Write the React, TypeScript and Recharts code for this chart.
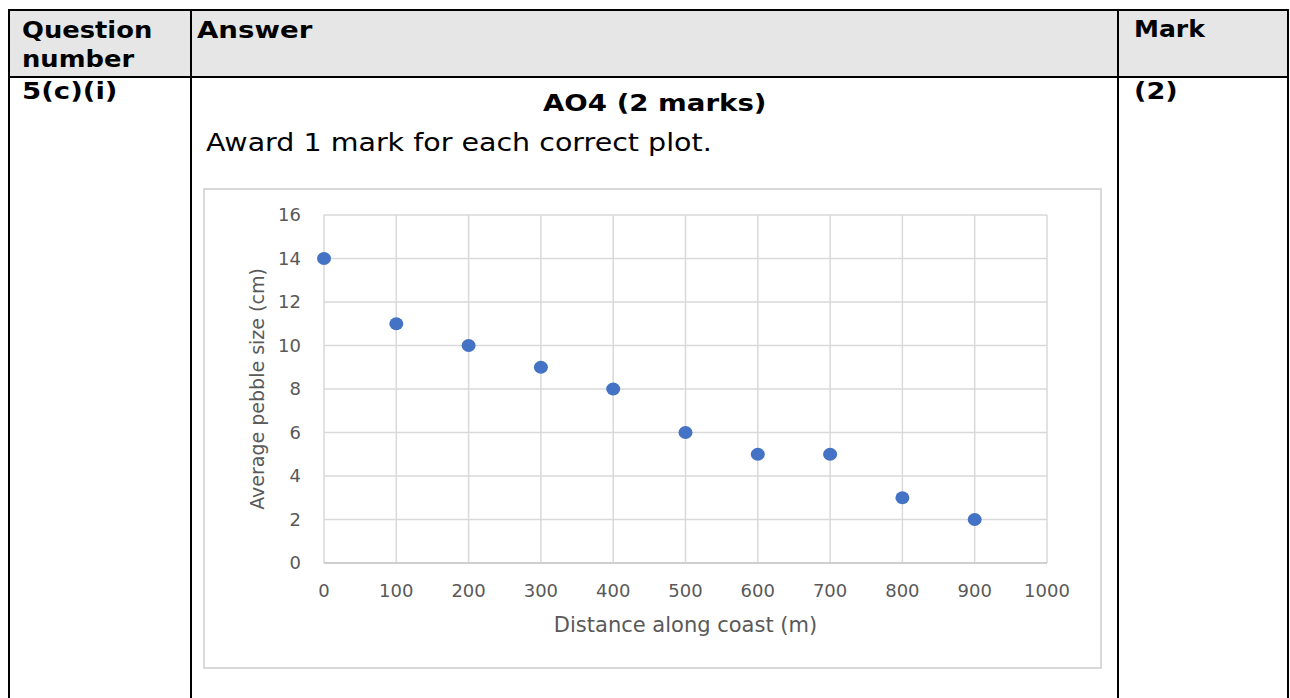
import React from 'react';
import { ScatterChart, Scatter, XAxis, YAxis, CartesianGrid } from 'recharts';

const distances = [0, 100, 200, 300, 400, 500, 600, 700, 800, 900];
const pebbleSizes = [14, 11, 10, 9, 8, 6, 5, 5, 3, 2];
const xTicks = [0, 100, 200, 300, 400, 500, 600, 700, 800, 900, 1000];
const yTicks = [0, 2, 4, 6, 8, 10, 12, 14, 16];

const data = distances.map((d, i) => ({ x: d, y: pebbleSizes[i] }));

const TABLE_FONT = '"DejaVu Sans", Verdana, sans-serif';
const CHART_FONT = '"DejaVu Sans", sans-serif';

const line = (left: number, top: number, width: number, height: number) => (
  <div style={{ position: 'absolute', left, top, width, height, background: '#000' }} />
);

const txt = (
  content: string,
  left: number,
  top: number,
  bold: boolean,
  scale: number,
  extra: React.CSSProperties = {}
) => (
  <div
    style={{
      position: 'absolute',
      left,
      top,
      fontFamily: TABLE_FONT,
      fontSize: bold ? 23 : 25,
      lineHeight: '29px',
      fontWeight: bold ? 'bold' : 'normal',
      color: '#000',
      whiteSpace: 'pre',
      transform: `scaleX(${scale})`,
      transformOrigin: 'left top',
      ...extra,
    }}
  >
    {content}
  </div>
);

const Dot = (props: any) => (
  <ellipse cx={props.cx} cy={props.cy} rx={7} ry={6.4} fill="#4472C4" />
);

export default function App() {
  return (
    <div style={{ position: 'absolute', left: 0, top: 0, width: 1290, height: 698, overflow: 'hidden', background: '#fff' }}>
      {/* header background */}
      <div style={{ position: 'absolute', left: 10, top: 11, width: 1277, height: 65, background: '#e7e6e6' }} />
      {/* table lines */}
      {line(8, 9, 1281, 2)}
      {line(8, 76, 1281, 2)}
      {line(8, 9, 2, 700)}
      {line(190, 9, 2, 700)}
      {line(1117, 9, 2, 700)}
      {line(1287, 9, 2, 700)}

      {txt('Question\nnumber', 22, 16, true, 1.12)}
      {txt('Answer', 197, 16, true, 1.2)}
      {txt('Mark', 1134, 15, true, 1.09)}
      {txt('5(c)(i)', 22, 77, true, 1.2)}
      {txt('(2)', 1134, 77, true, 1.18)}
      {txt('AO4 (2 marks)', 543, 89, true, 1.2)}
      {txt('Award 1 mark for each correct plot.', 206, 128, false, 1.14)}

      {/* chart frame */}
      <div
        style={{
          position: 'absolute',
          left: 203,
          top: 188,
          width: 899,
          height: 481,
          border: '2px solid #d9d9d9',
          boxSizing: 'border-box',
        }}
      />
      <div style={{ position: 'absolute', left: 203, top: 188 }}>
        <ScatterChart width={899} height={481} margin={{ top: 27, right: 55, bottom: 26, left: 20 }}>
          <CartesianGrid stroke="#d9d9d9" strokeWidth={1.5} />
          <XAxis
            type="number"
            dataKey="x"
            domain={[0, 1000]}
            ticks={xTicks}
            interval={0}
            height={80}
            tickLine={false}
            tickSize={0}
            tickMargin={21}
            axisLine={{ stroke: '#c8c8c8', strokeWidth: 1.5 }}
            tick={{ fill: '#595959', fontSize: 18, fontFamily: CHART_FONT }}
            label={{
              value: 'Distance along coast (m)',
              position: 'insideBottom',
              offset: 11,
              style: { fill: '#595959', fontSize: 21, fontFamily: CHART_FONT },
            }}
          />
          <YAxis
            type="number"
            dataKey="y"
            domain={[0, 16]}
            ticks={yTicks}
            interval={0}
            width={101}
            tickLine={false}
            tickSize={0}
            tickMargin={23}
            axisLine={false}
            tick={{ fill: '#595959', fontSize: 18, fontFamily: CHART_FONT }}
            label={{
              value: 'Average pebble size (cm)',
              angle: -90,
              position: 'insideLeft',
              offset: 34,
              style: { fill: '#595959', fontSize: 19, fontFamily: CHART_FONT, textAnchor: 'middle' },
            }}
          />
          <Scatter data={data} shape={Dot} isAnimationActive={false} />
        </ScatterChart>
      </div>
    </div>
  );
}
